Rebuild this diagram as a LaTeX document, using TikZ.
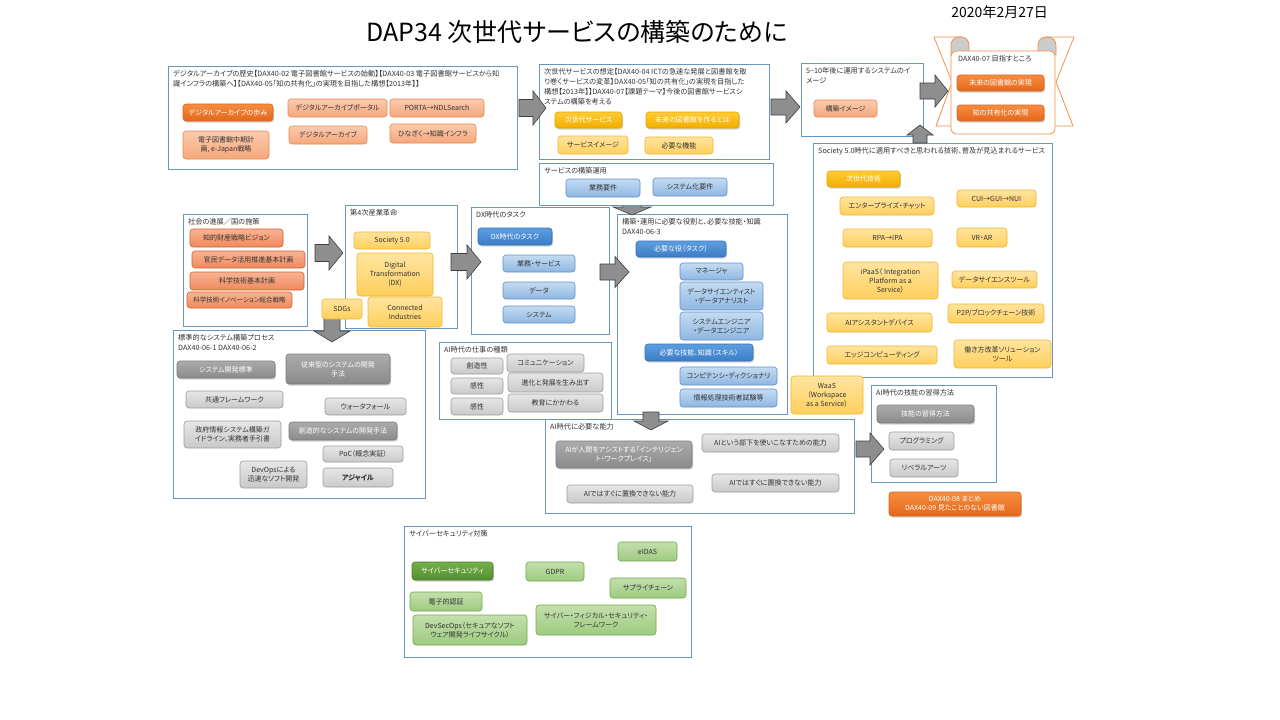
\documentclass[tikz,border=0pt]{standalone}
\usepackage{fontspec}
\setmainfont{Noto Sans CJK JP}[RawFeature={+palt}]
\usetikzlibrary{shadows,calc}
\definecolor{framec}{HTML}{6A95BD}
\definecolor{txt}{HTML}{333333}
\definecolor{loF1}{HTML}{FBCBAE}\definecolor{loF2}{HTML}{F5A77C}\definecolor{loD}{HTML}{E8874E}
\definecolor{doF1}{HTML}{F68D40}\definecolor{doF2}{HTML}{E4671A}\definecolor{doD}{HTML}{D9651F}
\definecolor{soF1}{HTML}{F8B393}\definecolor{soF2}{HTML}{F0895C}\definecolor{soD}{HTML}{D2602E}
\definecolor{lyF1}{HTML}{FFE4A0}\definecolor{lyF2}{HTML}{FFCF5C}\definecolor{lyD}{HTML}{F0B62A}
\definecolor{dyF1}{HTML}{FFCC33}\definecolor{dyF2}{HTML}{F2AD00}\definecolor{dyD}{HTML}{E0A300}
\definecolor{lbF1}{HTML}{C4DBF2}\definecolor{lbF2}{HTML}{8FB7E2}\definecolor{lbD}{HTML}{5E90CB}
\definecolor{dbF1}{HTML}{5E9EE0}\definecolor{dbF2}{HTML}{3B7DC6}\definecolor{dbD}{HTML}{3270B6}
\definecolor{lgF1}{HTML}{E6E6E6}\definecolor{lgF2}{HTML}{C9C9C9}\definecolor{lgD}{HTML}{9C9C9C}
\definecolor{dgF1}{HTML}{ABABAB}\definecolor{dgF2}{HTML}{8A8A8A}\definecolor{dgD}{HTML}{7C7C7C}
\definecolor{gnF1}{HTML}{C3DFAB}\definecolor{gnF2}{HTML}{9ECB80}\definecolor{gnD}{HTML}{6FA84C}
\definecolor{dnF1}{HTML}{74B04A}\definecolor{dnF2}{HTML}{558D31}\definecolor{dnD}{HTML}{4A7F2A}
\definecolor{scrollc}{HTML}{F0904A}
\definecolor{arrF}{HTML}{8E8E8E}\definecolor{arrD}{HTML}{3F3F3F}
\newcommand\hdrf{\fontsize{7.2}{10}\selectfont}
\newcommand\bxf{\fontsize{7}{9}\selectfont}
\tikzset{
  panel/.style={rectangle, draw=framec, fill=white, line width=0.7pt, inner sep=0pt},
  hdr/.style={anchor=north west, inner sep=0pt, align=left, text=txt, font=\hdrf},
  shd/.style={drop shadow={opacity=0.35, shadow xshift=1pt, shadow yshift=-1.5pt}},
  bb/.style={rectangle, rounded corners=3pt, align=center, inner sep=1pt, font=\bxf, line width=0.6pt, text=txt},
  bLO/.style={bb, draw=loD, top color=loF1, bottom color=loF2},
  bDO/.style={bb, shd, draw=doD, top color=doF1, bottom color=doF2, text=white},
  bSO/.style={bb, draw=soD, top color=soF1, bottom color=soF2},
  bLY/.style={bb, draw=lyD, top color=lyF1, bottom color=lyF2},
  bDY/.style={bb, shd, draw=dyD, top color=dyF1, bottom color=dyF2, text=white},
  bLB/.style={bb, draw=lbD, top color=lbF1, bottom color=lbF2},
  bDB/.style={bb, shd, draw=dbD, top color=dbF1, bottom color=dbF2, text=white},
  bLG/.style={bb, draw=lgD, top color=lgF1, bottom color=lgF2},
  bDG/.style={bb, shd, draw=dgD, top color=dgF1, bottom color=dgF2, text=white},
  bGN/.style={bb, draw=gnD, top color=gnF1, bottom color=gnF2},
  bDN/.style={bb, shd, draw=dnD, top color=dnF1, bottom color=dnF2, text=white},
  fatarr/.style={draw=arrD, fill=arrF, line width=0.6pt},
  scroll/.style={draw=scrollc, line width=0.8pt},
}
% box: style, name, x1, y1, x2, y2, text
\newcommand\DBox[7]{\node[#1, minimum width={(#5-#3)*1pt}, minimum height={(#6-#4)*1pt}] (#2) at ({(#3+#5)/2},{(#4+#6)/2}) {#7};}
% frame: name, x1, y1, x2, y2, header
\newcommand\DFrame[6]{\node[panel, minimum width={(#4-#2)*1pt}, minimum height={(#5-#3)*1pt}] (#1) at ({(#2+#4)/2},{(#3+#5)/2}) {};
  \node[hdr] (#1h) at ({#2+5},{#3+4}) {#6};}
% fat arrow: name, x, y (tail centre), length, angle, head width, shaft width, head length
\newcommand\FatArr[8]{\coordinate (#1) at (#2,#3);
  \draw[fatarr, shift={(#1)}, rotate=#5] (0,{-#7/2}) -- ({#4-#8},{-#7/2}) -- ({#4-#8},{-#6/2}) -- (#4,0) -- ({#4-#8},{#6/2}) -- ({#4-#8},{#7/2}) -- (0,{#7/2}) -- cycle;}
\begin{document}
\begin{tikzpicture}[x=1pt,y=-1pt]
\useasboundingbox[fill=white] (0,0) rectangle (1280,720);
% title and date
\node[font=\fontsize{25}{30}\selectfont, text=black] (title) at (577,32) {DAP34 次世代サービスの構築のために};
\node[font=\fontsize{14}{16}\selectfont, anchor=north east, text=black, inner sep=0pt] (date) at (1048,5) {2020年2月27日};
% frames
\DFrame{A}{168}{66}{517}{169}{デジタルアーカイブの歴史【DAX40-02 電子図書館サービスの始動】【DAX40-03 電子図書館サービスから知\\識インフラの構築へ】【DAX40-05「知の共有化」の実現を目指した構想【2013年】】}
\DFrame{B}{539}{64}{769}{159}{次世代サービスの想定【DAX40-04 ICTの急速な発展と図書館を取\\り巻くサービスの変革】DAX40-05「知の共有化」の実現を目指した\\構想【2013年】】DAX40-07【課題テーマ】今後の図書館サービスシ\\ステムの構築を考える}
\DFrame{C}{801}{63}{923}{136}{5\textasciitilde10年後に運用するシステムのイ\\メージ}
\DFrame{E}{813}{143}{1052}{377}{Society 5.0時代に適用すべきと思われる技術、普及が見込まれるサービス}
\DFrame{G}{183}{214}{307}{326}{社会の進展／国の施策}
\DFrame{H}{345}{205}{457}{328}{第4次産業革命}
\DFrame{I}{471}{207}{609}{334}{DX時代のタスク}
\DFrame{K}{617}{214}{787}{414}{構築・運用に必要な役割と、必要な技能・知識\\DAX40-06-3}
\FatArr{aFK}{632}{200}{15}{-90}{38}{18}{8}
\DFrame{F}{539}{163}{773}{205}{サービスの構築運用}
\DFrame{M}{439}{342}{611}{419}{AI時代の仕事の種類}
\DFrame{J}{173}{330}{425}{498}{標準的なシステム構築プロセス\\DAX40-06-1 DAX40-06-2}
\DFrame{L}{545}{419}{854}{513}{AI時代に必要な能力}
\DFrame{N}{871}{385}{996}{482}{AI時代の技能の習得方法}
\DFrame{O}{404}{526}{691}{657}{サイバーセキュリティ対策}
% scroll (goal)
\draw[scroll, fill=white] (934,37) -- (962,37) -- (962,126) -- (936,126) -- (952,82) -- cycle;
\draw[scroll, fill=white] (1074,37) -- (1046,37) -- (1046,126) -- (1073,126) -- (1056,82) -- cycle;
\draw[scroll, fill=gray!40] (951,55) -- (951,46) .. controls (951,40) and (954,37) .. (960,37) .. controls (966,37) and (969,40) .. (969,46) -- (969,55);
\draw[scroll, fill=gray!40] (1038,55) -- (1038,46) .. controls (1038,40) and (1041,37) .. (1047,37) .. controls (1053,37) and (1056,40) .. (1056,46) -- (1056,55);
\node[scroll, fill=white, rounded corners=5pt, minimum width=104pt, minimum height=83pt, inner sep=0pt] (D) at (1003,92.5) {};
\node[hdr] (Dh) at (958,55) {DAX40-07 目指すところ};
% arrows
\FatArr{aAB}{519}{108}{27}{0}{34}{17}{13}
\FatArr{aBC}{771}{107}{29}{0}{32}{16}{14}
\FatArr{aCD}{920}{91}{28}{0}{32}{16}{13}
\FatArr{aEC}{920}{143}{18}{90}{26}{14}{10}
\FatArr{aGH}{315}{253}{28}{0}{34}{17}{14}
\FatArr{aHI}{451}{262}{30}{0}{34}{17}{14}
\FatArr{aIK}{600}{272}{29}{0}{31}{16}{14}
\FatArr{aHJ}{332}{318}{24}{-90}{36}{16}{11}
\FatArr{aKL}{651}{412}{18}{-90}{34}{16}{9}
\FatArr{aLN}{856}{449}{28}{0}{32}{16}{14}
% A
\DBox{bDO}{a1}{183}{104}{273}{121}{デジタルアーカイブの歩み}
\DBox{bLO}{a2}{183}{131}{269}{159}{電子図書館中期計\\画, e-Japan戦略}
\DBox{bLO}{a3}{288}{99}{387}{117}{デジタルアーカイブポータル}
\DBox{bLO}{a4}{289}{126}{367}{144}{デジタルアーカイブ}
\DBox{bLO}{a5}{390}{99}{484}{117}{PORTA→NDLSearch}
\DBox{bLO}{a6}{390}{124}{476}{143}{ひなぎく→知識インフラ}
% B
\DBox{bDY}{b1}{555}{112}{622}{128}{次世代サービス}
\DBox{bDY}{b2}{646}{112}{739}{128}{未来の図書館を作るとは}
\DBox{bLY}{b3}{558}{136}{628}{154}{サービスイメージ}
\DBox{bLY}{b4}{645}{137}{713}{154}{必要な機能}
% C, D
\DBox{bLO}{c1}{814}{100}{877}{117}{構築イメージ}
\DBox{bDO}{d1}{957}{75}{1044}{91}{未来の図書館の実現}
\DBox{bDO}{d2}{957}{105}{1044}{121}{知の共有化の実現}
% E
\DBox{bDY}{e1}{827}{171}{900}{187}{次世代技術}
\DBox{bLY}{e2}{840}{197}{934}{215}{エンタープライズ・チャット}
\DBox{bLY}{e3}{957}{190}{1036}{207}{CUI→GUI→NUI}
\DBox{bLY}{e4}{843}{229}{932}{247}{RPA→IPA}
\DBox{bLY}{e5}{957}{228}{1007}{247}{VR・AR}
\DBox{bLY}{e6}{843}{262}{938}{299}{iPaaS（ Integration\\Platform as a\\Service）}
\DBox{bLY}{e7}{952}{271}{1037}{288}{データサイエンスツール}
\DBox{bLY}{e8}{948}{304}{1044}{323}{P2P/ブロックチェーン技術}
\DBox{bLY}{e9}{827}{313}{932}{332}{AIアシスタントデバイス}
\DBox{bLY}{e10}{827}{346}{937}{364}{エッジコンピューティング}
\DBox{bLY}{e11}{954}{340}{1051}{368}{働き方改革ソリューション\\ツール}
\DBox{bLY}{waas}{791}{376}{863}{414}{WaaS\\（Workspace\\as a Service）}
% F
\DBox{bLB}{f1}{566}{179}{640}{197}{業務要件}
\DBox{bLB}{f2}{653}{178}{727}{196}{システム化要件}
% G
\DBox{bSO}{g1}{190}{229}{283}{247}{知的財産戦略ビジョン}
\DBox{bSO}{g2}{192}{251}{305}{268}{官民データ活用推進基本計画}
\DBox{bSO}{g3}{190}{272}{304}{290}{科学技術基本計画}
\DBox{bSO}{g4}{187}{292}{292}{308}{\fontsize{6.5}{8}\selectfont 科学技術イノベーション総合戦略}
% H
\DBox{bLY}{h1}{354}{232}{430}{249}{Society 5.0}
\DBox{bLY}{h2}{357}{253}{433}{296}{Digital\\Transformation\\(DX)}
\DBox{bLY}{h3}{322}{299}{362}{319}{SDGs}
\DBox{bLY}{h4}{368}{297}{442}{327}{Connected\\Industries}
% I
\DBox{bDB}{i1}{478}{228}{552}{245}{DX時代のタスク}
\DBox{bLB}{i2}{503}{255}{575}{272}{業務・サービス}
\DBox{bLB}{i3}{503}{282}{575}{299}{データ}
\DBox{bLB}{i4}{503}{306}{575}{323}{システム}
% K
\DBox{bDB}{k1}{636}{241}{726}{257}{必要な役（タスク）}
\DBox{bLB}{k2}{680}{263}{743}{280}{マネージャ}
\DBox{bLB}{k3}{680}{282}{763}{310}{データサイエンティスト\\・データアナリスト}
\DBox{bLB}{k4}{680}{312}{763}{340}{システムエンジニア\\・データエンジニア}
\DBox{bDB}{k5}{645}{344}{753}{361}{必要な技能、知識（スキル）}
\DBox{bLB}{k6}{680}{367}{777}{385}{コンピテンシ・ディクショナリ}
\DBox{bLB}{k7}{680}{389}{777}{407}{情報処理技術者試験等}
% M
\DBox{bLG}{m1}{451}{358}{503}{374}{創造性}
\DBox{bLG}{m2}{451}{378}{503}{394}{感性}
\DBox{bLG}{m3}{451}{398}{503}{415}{感性}
\DBox{bLG}{m4}{507}{354}{584}{372}{コミュニケーション}
\DBox{bLG}{m5}{508}{373}{603}{392}{進化と発展を生み出す}
\DBox{bLG}{m6}{508}{394}{603}{412}{教育にかかわる}
% J
\DBox{bDG}{j1}{177}{361}{275}{378}{システム開発標準}
\DBox{bDG}{j2}{286}{354}{390}{384}{従来型のシステムの開発\\手法}
\DBox{bLG}{j3}{186}{391}{283}{408}{共通フレームワーク}
\DBox{bLG}{j4}{325}{398}{406}{415}{ウォータフォール}
\DBox{bLG}{j5}{184}{421}{281}{448}{政府情報システム構築ガ\\イドライン、実務者手引書}
\DBox{bDG}{j6}{289}{422}{397}{440}{創造的なシステムの開発手法}
\DBox{bLG}{j7}{323}{446}{403}{462}{PoC（概念実証）}
\DBox{bLG}{j8}{240}{461}{307}{488}{DevOpsによる\\迅速なソフト開発}
\DBox{bLG}{j9}{323}{468}{393}{487}{\textbf{アジャイル}}
% L
\DBox{bDG}{l1}{556}{441}{692}{468}{AIが人間をアシストする「インテリジェン\\ト・ワークプレイス」}
\DBox{bLG}{l2}{702}{434}{839}{452}{AIという部下を使いこなすための能力}
\DBox{bLG}{l3}{712}{474}{839}{492}{AIではすぐに置換できない能力}
\DBox{bLG}{l4}{567}{485}{693}{503}{AIではすぐに置換できない能力}
% N
\DBox{bDG}{n1}{877}{405}{974}{423}{技能の習得方法}
\DBox{bLG}{n2}{889}{432}{954}{450}{プログラミング}
\DBox{bLG}{n3}{890}{459}{958}{477}{リベラルアーツ}
\DBox{bDO}{dax}{889}{492}{1021}{516}{DAX40-08 まとめ\\DAX40-09 見たことのない図書館}
% O
\DBox{bDN}{o1}{412}{562}{493}{580}{サイバーセキュリティ}
\DBox{bGN}{o2}{526}{562}{584}{581}{GDPR}
\DBox{bGN}{o3}{618}{542}{677}{561}{eIDAS}
\DBox{bGN}{o4}{610}{578}{686}{598}{サプライチェーン}
\DBox{bGN}{o5}{410}{592}{482}{611}{電子的認証}
\DBox{bGN}{o6}{413}{615}{527}{645}{DevSecOps（セキュアなソフト\\ウェア開発ライフサイクル）}
\DBox{bGN}{o7}{536}{605}{656}{635}{サイバー・フィジカル・セキュリティ・\\フレームワーク}
\end{tikzpicture}
\end{document}
